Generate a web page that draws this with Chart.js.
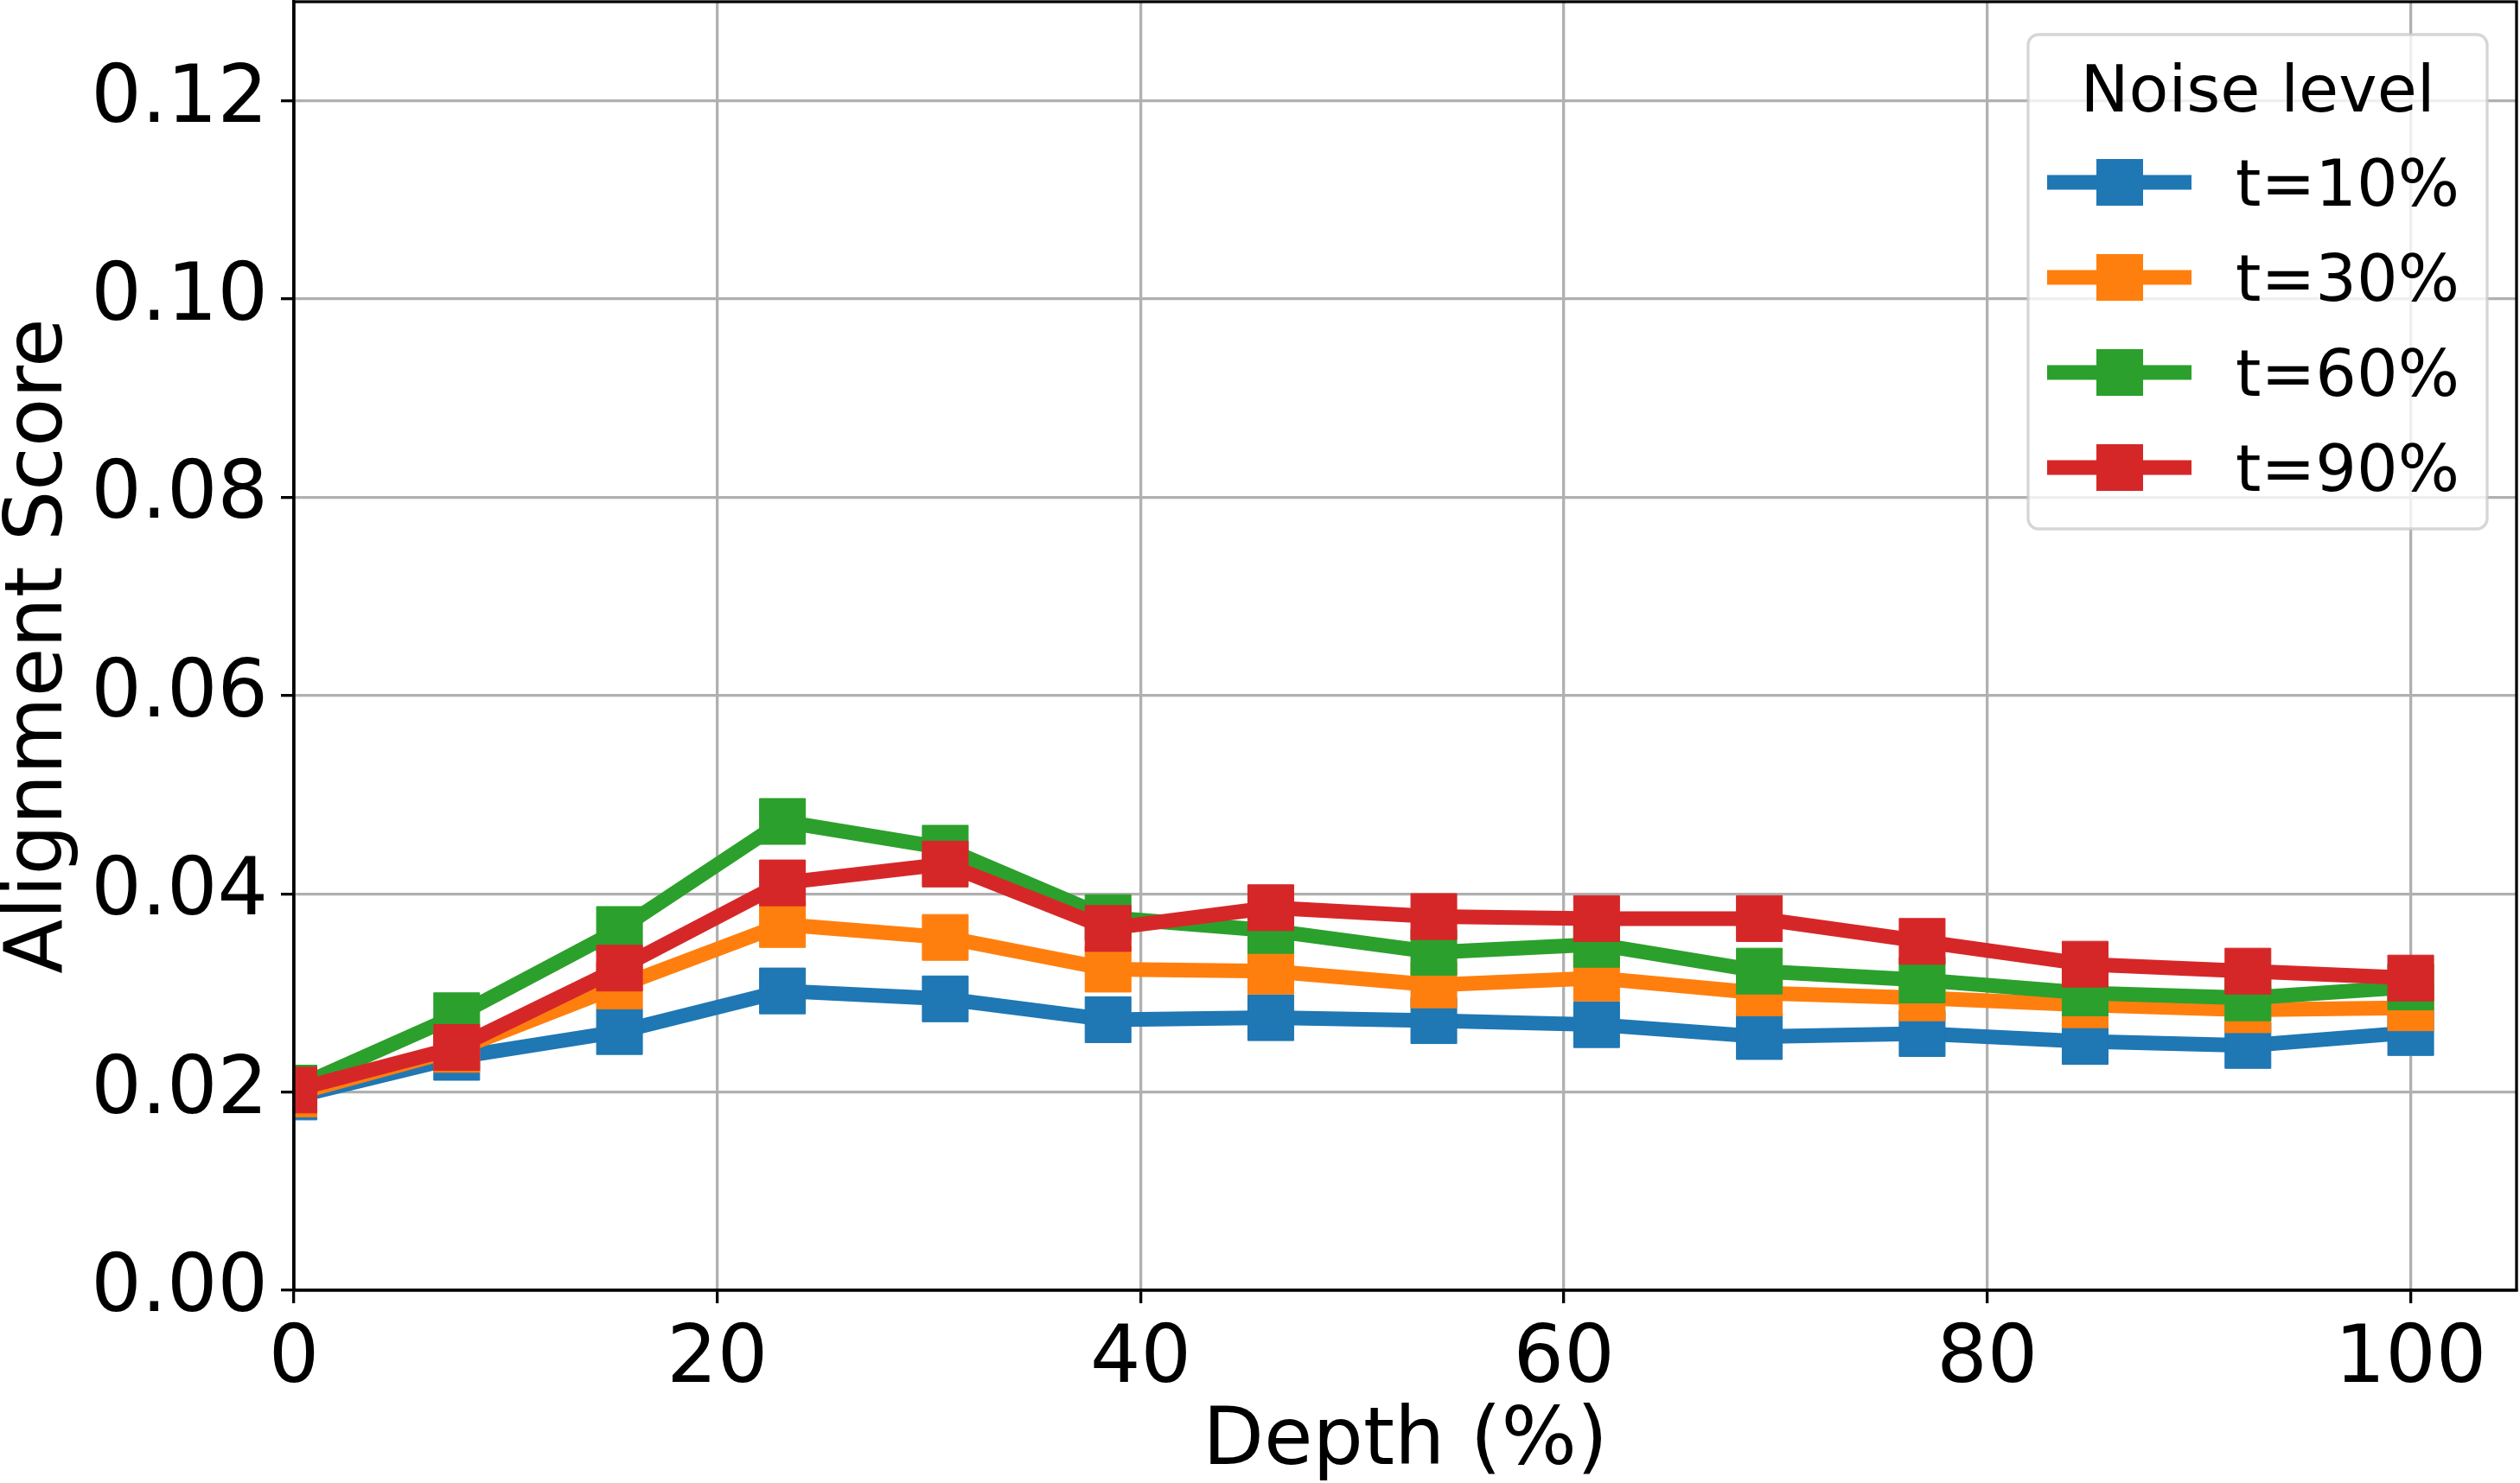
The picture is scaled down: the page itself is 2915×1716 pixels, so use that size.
<!DOCTYPE html>
<html lang="en">
<head>
<meta charset="utf-8">
<title>Alignment Score vs Depth</title>
<script src="https://cdn.jsdelivr.net/npm/chart.js@4.4.1/dist/chart.umd.min.js"></script>
<style>
  html, body { margin: 0; padding: 0; background: #fff; }
  #chart-wrap { width: 2915px; height: 1716px; }
</style>
</head>
<body>
<div id="chart-wrap"><canvas id="chart-alignment" width="2915" height="1716"></canvas></div>
<script>
// Depth of the layer (%), 14 evenly spaced layers
const depthPct = [0, 7.69, 15.38, 23.08, 30.77, 38.46, 46.15, 53.85, 61.54, 69.23, 76.92, 84.62, 92.31, 100];

// Alignment score per noise level
const scoreT10 = [0.0195, 0.0235, 0.0261, 0.0302, 0.0294, 0.0273, 0.0275, 0.0272, 0.0268, 0.0256, 0.0259, 0.0251, 0.0247, 0.0260];
const scoreT30 = [0.0198, 0.0243, 0.0307, 0.0369, 0.0356, 0.0324, 0.0322, 0.0308, 0.0315, 0.0300, 0.0295, 0.0288, 0.0283, 0.0285];
const scoreT60 = [0.0204, 0.0277, 0.0364, 0.0473, 0.0446, 0.0376, 0.0363, 0.0341, 0.0349, 0.0322, 0.0313, 0.0300, 0.0295, 0.0306];
const scoreT90 = [0.0202, 0.0245, 0.0325, 0.0411, 0.0430, 0.0365, 0.0386, 0.0377, 0.0375, 0.0375, 0.0352, 0.0329, 0.0322, 0.0315];

const seriesLabels = ['t=10%', 't=30%', 't=60%', 't=90%'];
const seriesColors = ['#1f77b4', '#ff7f0e', '#2ca02c', '#d62728'];
const legendTitle = 'Noise level';

const xTicks = [0, 20, 40, 60, 80, 100];
const yTicks = [0, 0.02, 0.04, 0.06, 0.08, 0.10, 0.12];

Chart.defaults.font.family = "'DejaVu Sans', sans-serif";
Chart.defaults.color = '#000';

const FONT_BIG = 92;
const FONT_LEGEND = 75;
const LINE_W = 17;
const SPINE_W = 3.3;

/**
 * Caja negra alrededor del área del gráfico (los 4 ejes, como matplotlib).
 */
const spinesPlugin = {
  id: 'spines',
  afterDatasetsDraw(chart) {
    const { ctx, chartArea: a } = chart;
    ctx.save();
    ctx.strokeStyle = '#000';
    ctx.lineWidth = SPINE_W;
    ctx.strokeRect(a.left, a.top, a.right - a.left, a.bottom - a.top);
    ctx.restore();
  }
};

/**
 * Leyenda dentro del área, arriba a la derecha, con título.
 */
const noiseLegend = {
  id: 'noiseLegend',
  afterDraw(chart) {
    const { ctx, chartArea: a } = chart;
    const w = 531, h = 572;
    const x = a.right - 34 - w;
    const y = a.top + 38;
    ctx.save();
    ctx.beginPath();
    ctx.roundRect(x, y, w, h, 12);
    ctx.fillStyle = 'rgba(255,255,255,0.8)';
    ctx.fill();
    ctx.strokeStyle = 'rgba(204,204,204,0.8)';
    ctx.lineWidth = SPINE_W;
    ctx.stroke();

    ctx.fillStyle = '#000';
    ctx.font = FONT_LEGEND + "px 'DejaVu Sans'";
    ctx.textAlign = 'center';
    ctx.textBaseline = 'alphabetic';
    ctx.fillText(legendTitle, x + w / 2, y + 89);

    chart.data.datasets.forEach((ds, i) => {
      const cy = y + 171 + i * 110;
      ctx.strokeStyle = ds.borderColor;
      ctx.lineWidth = LINE_W;
      ctx.beginPath();
      ctx.moveTo(x + 22, cy);
      ctx.lineTo(x + 189, cy);
      ctx.stroke();
      ctx.fillStyle = ds.borderColor;
      ctx.fillRect(x + 106 - 27, cy - 27, 54, 54);
      ctx.fillStyle = '#000';
      ctx.textAlign = 'left';
      ctx.fillText(ds.label, x + 240, cy + 27);
    });
    ctx.restore();
  }
};

const allScores = [scoreT10, scoreT30, scoreT60, scoreT90];
const datasets = allScores.map((values, i) => ({
  label: seriesLabels[i],
  data: depthPct.map((d, j) => ({ x: d, y: values[j] })),
  borderColor: seriesColors[i],
  backgroundColor: seriesColors[i],
  borderWidth: LINE_W,
  borderJoinStyle: 'round',
  borderCapStyle: 'square',
  pointStyle: 'rect',
  pointRadius: 37.5,
  pointBorderWidth: 1,
  pointBackgroundColor: seriesColors[i],
  pointBorderColor: seriesColors[i],
  tension: 0,
  clip: 0,
  order: allScores.length - 1 - i // la última serie queda encima
}));

const gridStyle = { color: '#b0b0b0', lineWidth: SPINE_W, tickColor: '#000', tickWidth: SPINE_W, tickLength: 15 };

// sin relleno extra por las etiquetas extremas: el área llega a los bordes
function noLabelPadding(s) {
  s.paddingTop = 0;
  s.paddingBottom = 0;
  s.paddingLeft = 0;
  s.paddingRight = 0;
}

new Chart(document.getElementById('chart-alignment').getContext('2d'), {
  type: 'line',
  data: { datasets },
  options: {
    responsive: false,
    animation: false,
    devicePixelRatio: 1,
    layout: { autoPadding: false, padding: { top: 2, right: 4, left: 0, bottom: 0 } },
    plugins: { legend: { display: false }, tooltip: { enabled: false } },
    scales: {
      x: {
        type: 'linear',
        min: 0,
        max: 105,
        afterBuildTicks: s => { s.ticks = xTicks.map(v => ({ value: v })); },
        afterFit: s => { s.height = 223; noLabelPadding(s); },
        grid: gridStyle,
        border: { color: '#000', width: SPINE_W },
        ticks: { color: '#000', font: { size: FONT_BIG }, padding: 12, maxRotation: 0, autoSkip: false, callback: v => String(v) },
        title: { display: true, text: 'Depth (%)', color: '#000', font: { size: FONT_BIG, lineHeight: 1.0 }, padding: { top: 0, bottom: 0 } }
      },
      y: {
        type: 'linear',
        min: 0,
        max: 0.13,
        afterBuildTicks: s => { s.ticks = yTicks.map(v => ({ value: v })); },
        afterFit: s => { s.width = 340; noLabelPadding(s); },
        grid: gridStyle,
        border: { color: '#000', width: SPINE_W },
        ticks: { color: '#000', font: { size: FONT_BIG }, padding: 15, autoSkip: false, callback: v => v.toFixed(2) },
        title: { display: true, text: 'Alignment Score', color: '#000', font: { size: FONT_BIG, lineHeight: 1.02 }, padding: { top: 0, bottom: 0 } }
      }
    }
  },
  plugins: [spinesPlugin, noiseLegend]
});
</script>
</body>
</html>
